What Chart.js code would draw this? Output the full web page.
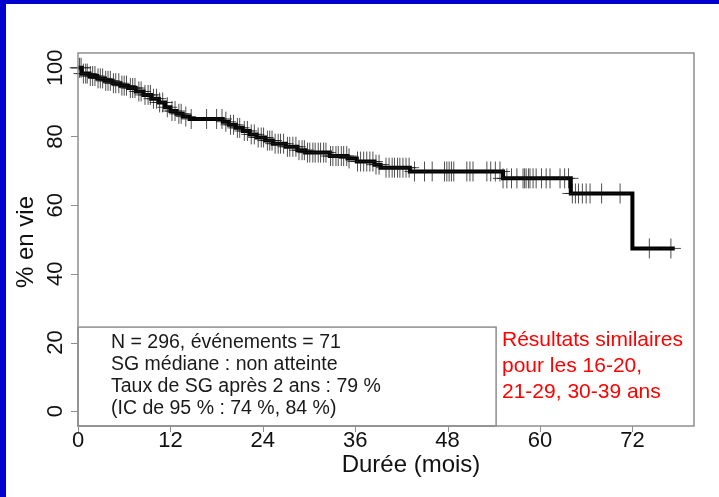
<!DOCTYPE html>
<html>
<head>
<meta charset="utf-8">
<script src="https://cdn.jsdelivr.net/npm/chart.js@4.4.0/dist/chart.umd.min.js"></script>
<style>
  html, body { margin: 0; padding: 0; background: #fff; }
  #wrap { position: relative; width: 719px; height: 497px; overflow: hidden; }
  #wrap canvas { position: absolute; left: 0; top: 0; }
  .band-top { position: absolute; left: 0; top: 0; width: 719px; height: 4px; background: #0000cc; }
  .band-left { position: absolute; left: 0; top: 0; width: 6px; height: 497px; background: #0000cc; }
</style>
</head>
<body>
<div id="wrap">
  <canvas id="km" width="719" height="497"></canvas>
  <div class="band-top"></div>
  <div class="band-left"></div>
</div>
<script>
// ===== Données =====
const eventTimes = [0.5, 1.5, 2.5, 3.5, 4.5, 5.5, 6.5, 7.5, 8.5, 9.5, 10.5, 11.3, 12.0, 12.8, 13.6, 14.5,
    18.8, 19.6, 20.5, 21.4, 22.3, 23.2, 24.3, 25.3, 26.0, 27.0, 28.5, 29.5, 32.7, 35.0, 36.2, 38.5,
    39.3, 43.1, 55.2, 64.0, 72.0];
const survival = [98.3, 97.6, 96.9, 96.2, 95.5, 94.8, 94.1, 93.1, 92.1, 91.0, 89.9, 88.5, 87.4, 86.6, 85.8, 85.1,
    84.3, 83.4, 82.5, 81.6, 80.6, 79.7, 78.8, 77.9, 77.9, 77.0, 76.0, 75.3, 74.3, 73.6, 72.7, 71.8,
    70.9, 69.8, 67.8, 63.4, 47.4];
const lastFollowUp = 77.5;

// ===== Patients censurés (mois) =====
const censorTimes = [
    0.2, 0.4, 0.7, 1.0, 1.2, 1.6, 1.9, 2.2, 2.6, 2.9, 3.2, 3.6, 3.9, 4.2, 4.6, 4.9, 5.3, 5.7, 6.0, 6.3,
    6.8, 7.1, 7.4, 7.9, 8.2, 8.7, 9.1, 9.4, 9.8, 10.2, 10.6, 11.0, 11.6, 12.2, 12.6, 13.1, 13.4, 14.0, 14.7,
    16.7, 18.0, 18.7, 19.2, 19.8, 20.2, 20.7, 21.0, 21.6, 22.0, 22.5, 22.9, 23.4, 23.8, 24.1, 24.6, 24.9,
    25.2, 25.6, 26.0, 26.3, 26.7, 27.2, 27.5, 27.9, 28.3, 28.7, 29.1, 29.4, 29.8,
    30.1, 30.5, 30.8, 31.2, 31.5, 31.9, 32.2, 32.8, 33.1, 33.5, 33.8, 34.2, 34.5, 34.9, 35.2, 36.3, 36.7,
    37.1, 37.5, 37.9, 38.3, 38.7, 39.1, 40.0, 40.4, 40.8, 41.1, 41.5, 41.8, 42.2, 42.6, 43.0,
    43.7, 45.0, 46.0, 47.6, 47.9, 48.2, 48.5, 48.8, 50.5, 50.9, 51.3, 53.1, 53.6, 54.2, 54.8, 55.2, 55.7,
    56.3, 57.0, 57.8, 58.0, 58.2, 58.5, 58.7, 59.1, 59.5, 60.2, 60.8, 61.3, 62.6, 63.2, 63.7, 64.2, 64.6,
    65.0, 65.5, 66.0, 66.5, 68.0, 70.4, 74.2, 77.0
];

// ===== Axes et textes =====
const xTicks = [0, 12, 24, 36, 48, 60, 72];
const yTicks = [0, 20, 40, 60, 80, 100];
const xTitle = 'Durée (mois)';
const yTitle = '% en vie';
const statLines = [
    'N = 296, événements = 71',
    'SG médiane : non atteinte',
    'Taux de SG après 2 ans : 79 %',
    '(IC de 95 % : 74 %, 84 %)'
];
const noteLines = ['Résultats similaires', 'pour les 16-20,', '21-29, 30-39 ans'];

const FONT = '"Liberation Sans", Arial, sans-serif';

// ===== Construction de la courbe en escalier =====
function survivalAt(t) {
    let s = 100;
    for (let i = 0; i < eventTimes.length; i++) {
        if (eventTimes[i] <= t) s = survival[i];
    }
    return s;
}

const curvePoints = [{ x: 0, y: 100 }];
eventTimes.forEach((t, i) => curvePoints.push({ x: t, y: survival[i] }));
curvePoints.push({ x: lastFollowUp, y: survival[survival.length - 1] });

const censorPoints = censorTimes.map(t => ({ x: t, y: survivalAt(t) }));

// ===== Cadre, légende et libellés =====
const decor = {
    id: 'decor',
    afterDraw(chart) {
        const { ctx, chartArea: a, scales: { x, y } } = chart;
        ctx.save();

        // cadre du graphique
        ctx.strokeStyle = '#8e8e8e';
        ctx.lineWidth = 1.5;
        ctx.strokeRect(a.left, a.top, a.right - a.left, a.bottom - a.top);

        // petits traits des graduations
        ctx.lineWidth = 1;
        ctx.beginPath();
        xTicks.forEach(v => {
            const px = Math.round(x.getPixelForValue(v)) + 0.5;
            ctx.moveTo(px, a.bottom);
            ctx.lineTo(px, a.bottom + 6);
        });
        yTicks.forEach(v => {
            const py = Math.round(y.getPixelForValue(v)) + 0.5;
            ctx.moveTo(a.left, py);
            ctx.lineTo(a.left - 7, py);
        });
        ctx.stroke();

        // encadré des statistiques
        ctx.lineWidth = 1.5;
        const boxRight = x.getPixelForValue(54.3);
        const boxTop = y.getPixelForValue(24.5);
        ctx.strokeRect(a.left, boxTop, boxRight - a.left, a.bottom - boxTop);

        ctx.fillStyle = '#1a1a1a';
        ctx.font = '19.5px ' + FONT;
        ctx.textAlign = 'left';
        ctx.textBaseline = 'middle';
        statLines.forEach((line, i) => ctx.fillText(line, 111, 343 + i * 22));

        ctx.fillStyle = '#ff0000';
        ctx.font = '21px ' + FONT;
        noteLines.forEach((line, i) => ctx.fillText(line, 502, 340 + i * 26));

        // graduations
        ctx.fillStyle = '#111';
        ctx.font = '22px ' + FONT;
        ctx.textAlign = 'center';
        xTicks.forEach(v => ctx.fillText(String(v), x.getPixelForValue(v), 441));
        yTicks.forEach(v => {
            ctx.save();
            ctx.translate(56, y.getPixelForValue(v));
            ctx.rotate(-Math.PI / 2);
            ctx.fillText(String(v), 0, 0);
            ctx.restore();
        });

        // titres des axes
        ctx.font = '24px ' + FONT;
        ctx.fillText(xTitle, 411, 465);
        ctx.save();
        ctx.translate(26, 242);
        ctx.rotate(-Math.PI / 2);
        ctx.fillText(yTitle, 0, 0);
        ctx.restore();

        ctx.restore();
    }
};

new Chart(document.getElementById('km'), {
    type: 'scatter',
    data: {
        datasets: [
            {
                type: 'line',
                data: curvePoints,
                stepped: true,
                borderColor: '#000',
                borderWidth: 4,
                borderJoinStyle: 'miter',
                pointRadius: 0,
                fill: false,
                clip: false,
                order: 2
            },
            {
                data: censorPoints,
                pointStyle: 'cross',
                pointRadius: 10,
                borderColor: 'rgba(20,20,20,0.75)',
                borderWidth: 1,
                clip: false,
                order: 1
            }
        ]
    },
    options: {
        responsive: false,
        animation: false,
        devicePixelRatio: 1,
        layout: { padding: { left: 0, top: 53, right: 25, bottom: 0 } },
        plugins: { legend: { display: false }, tooltip: { enabled: false } },
        scales: {
            x: {
                type: 'linear',
                min: 0,
                max: 80,
                afterBuildTicks: s => { s.ticks = xTicks.map(v => ({ value: v })); },
                afterFit: s => { s.height = 71; },
                grid: { display: false },
                border: { display: false },
                ticks: { display: false }
            },
            y: {
                type: 'linear',
                min: -4.3,
                max: 104.3,
                afterBuildTicks: s => { s.ticks = yTicks.map(v => ({ value: v })); },
                afterFit: s => { s.width = 78; },
                grid: { display: false },
                border: { display: false },
                ticks: { display: false }
            }
        }
    },
    plugins: [decor]
});
</script>
</body>
</html>
